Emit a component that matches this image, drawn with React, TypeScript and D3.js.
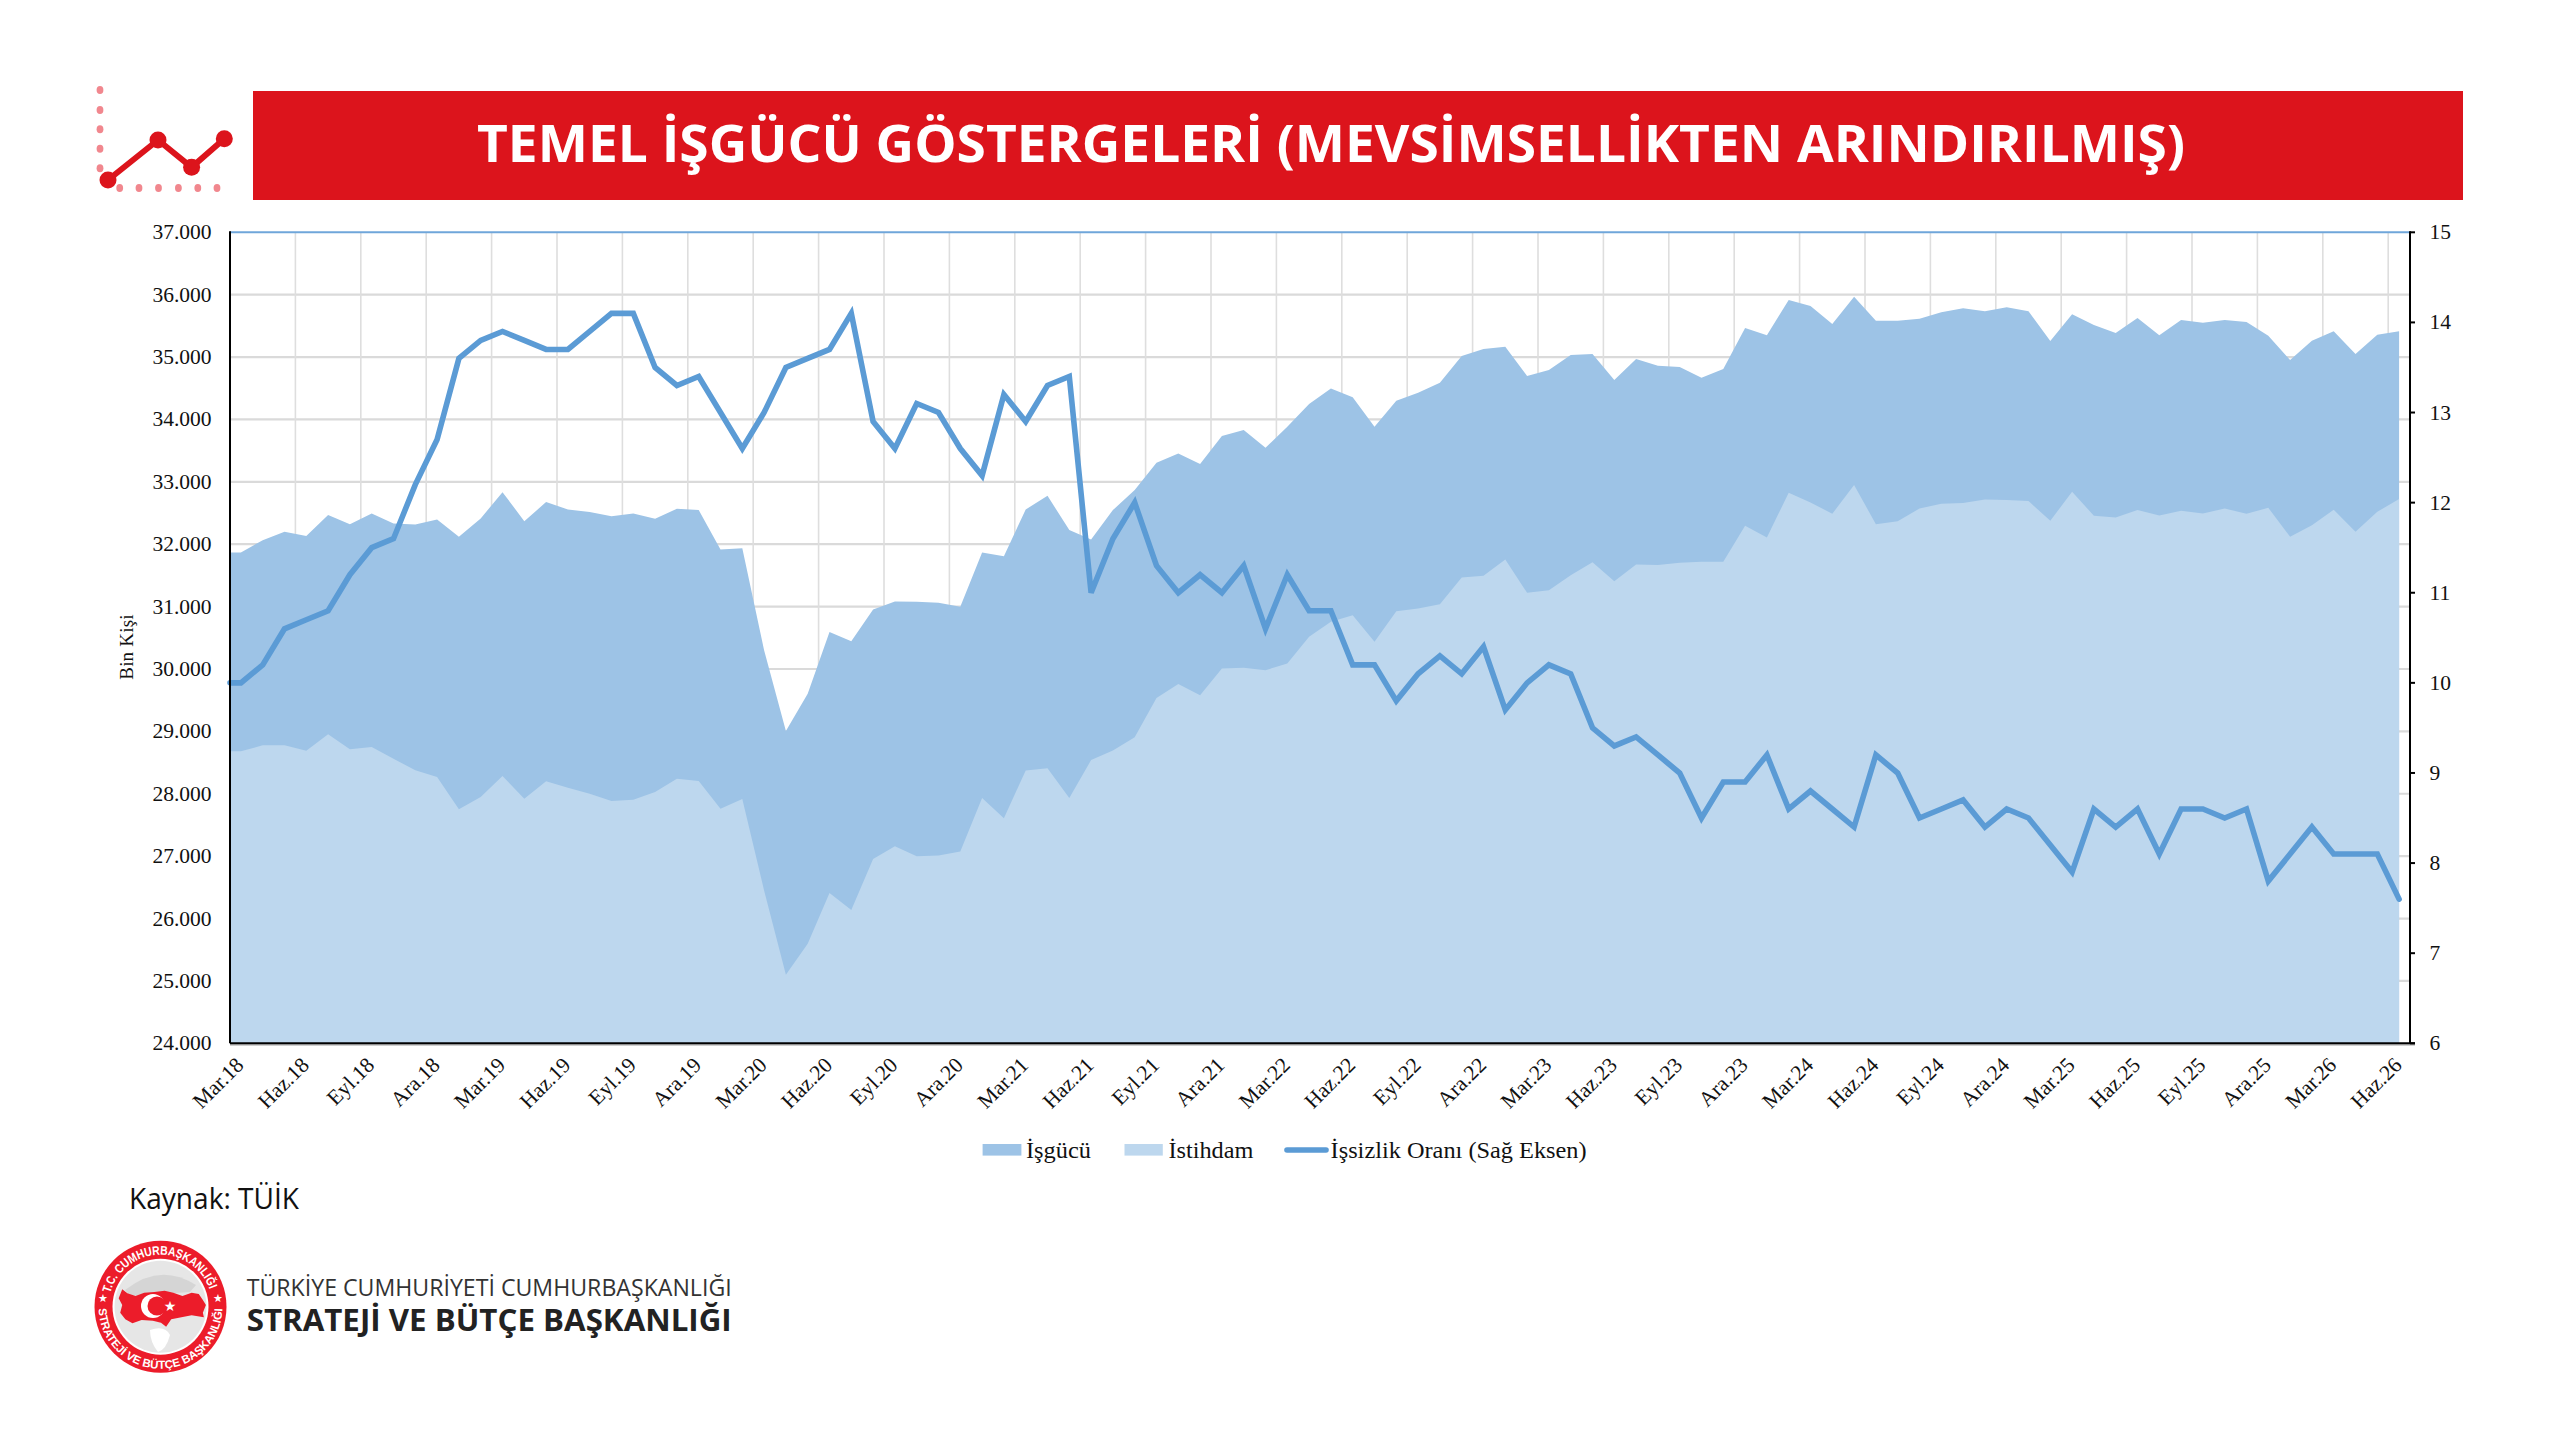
import React from "react";
import * as d3 from "d3";

const quarterLabels = ["Mar.18","Haz.18","Eyl.18","Ara.18","Mar.19","Haz.19","Eyl.19","Ara.19","Mar.20","Haz.20","Eyl.20","Ara.20","Mar.21","Haz.21","Eyl.21","Ara.21","Mar.22","Haz.22","Eyl.22","Ara.22","Mar.23","Haz.23","Eyl.23","Ara.23","Mar.24","Haz.24","Eyl.24","Ara.24","Mar.25","Haz.25","Eyl.25","Ara.25","Mar.26","Haz.26"];

const isgucu = [31868,32065,32200,32130,32467,32322,32493,32333,32317,32397,32119,32413,32835,32370,32675,32557,32515,32450,32493,32408,32568,32547,31916,31937,30300,29005,29605,30594,30444,30954,31082,31077,31060,30996,31868,31809,32557,32777,32226,32076,32547,32868,33306,33456,33285,33734,33830,33546,33883,34247,34498,34354,33883,34300,34429,34589,35017,35129,35166,34696,34792,35033,35049,34632,34968,34862,34840,34669,34808,35466,35348,35915,35819,35530,35968,35583,35583,35615,35717,35781,35733,35797,35733,35257,35685,35514,35386,35626,35348,35594,35551,35594,35562,35343,34952,35263,35412,35049,35359,35412];

const istihdam = [28680,28776,28776,28690,28952,28712,28749,28562,28375,28268,27750,27947,28284,27921,28199,28097,28001,27883,27905,28028,28241,28204,27760,27915,26450,25098,25595,26408,26135,26955,27159,26999,27010,27076,27932,27606,28374,28407,27932,28540,28695,28904,29534,29760,29578,30009,30020,29981,30088,30515,30756,30863,30435,30927,30970,31039,31467,31494,31756,31221,31264,31504,31713,31408,31675,31665,31702,31718,31718,32296,32108,32825,32670,32488,32948,32322,32370,32573,32648,32659,32718,32707,32691,32376,32841,32456,32429,32547,32461,32536,32493,32573,32488,32584,32119,32306,32552,32199,32520,32723];

const issizlik = [10.0,10.2,10.6,10.7,10.8,11.2,11.5,11.6,12.2,12.7,13.6,13.8,13.9,13.8,13.7,13.7,13.9,14.1,14.1,13.5,13.3,13.4,13.0,12.6,13.0,13.5,13.6,13.7,14.1,12.9,12.6,13.1,13.0,12.6,12.3,13.2,12.9,13.3,13.4,11.0,11.6,12.0,11.3,11.0,11.2,11.0,11.3,10.6,11.2,10.8,10.8,10.2,10.2,9.8,10.1,10.3,10.1,10.4,9.7,10.0,10.2,10.1,9.5,9.3,9.4,9.2,9.0,8.5,8.9,8.9,9.2,8.6,8.8,8.6,8.4,9.2,9.0,8.5,8.6,8.7,8.4,8.6,8.5,8.2,7.9,8.6,8.4,8.6,8.1,8.6,8.6,8.5,8.6,7.8,8.1,8.4,8.1,8.1,8.1,7.6];

const leftTicks = d3.range(24000, 37001, 1000);
const rightTicks = d3.range(6, 16, 1);

const DARK = "#9DC3E6";
const LIGHT = "#BDD7EE";
const LINE = "#5B9BD5";
const RED = "#DC141C";
const PINK = "#F1878E";
const SERIF = "'Liberation Serif', serif";
const SANS = "'Open Sans', sans-serif";

const plot = { left: 230, right: 2410, top: 232.3, bottom: 1043.3 };

const fmt = d3.formatLocale({ decimal: ",", thousands: ".", grouping: [3], currency: ["", ""] }).format(",d");

const zoomX = (z: number) => 60 + z / 1.96;
const zoomY = (z: number) => 1160 + z / 3;
const turkey = [[115,415],[122,388],[132,400],[148,408],[165,398],[185,396],[205,392],[222,398],[240,408],[258,398],[272,402],[280,420],[286,435],[280,458],[282,472],[258,466],[238,472],[218,478],[208,500],[198,488],[182,482],[160,480],[142,490],[128,478],[118,458],[122,435]];

function App() {
  const x = d3.scaleBand<number>().domain(d3.range(issizlik.length)).range([plot.left, plot.right]);
  const cx = (i: number) => x(i)! + x.bandwidth() / 2;
  const yL = d3.scaleLinear().domain([24000, 37000]).range([plot.bottom, plot.top]);
  const yR = d3.scaleLinear().domain([6, 15]).range([plot.bottom, plot.top]);
  const px = (_: number, i: number) => (i === 0 ? plot.left : cx(i - 1));
  const extend = (a: number[]) => [a[0], ...a];
  const areaL = d3.area<number>().x(px).y0(plot.bottom).y1((d) => yL(d));
  const lineR = d3.line<number>().x(px).y((d) => yR(d));
  const iconLine = d3.line();
  const qStep = x.step() * 3;
  const vGrid = quarterLabels.map((_, i) => plot.left + i * qStep);

  const emb = { x: 160.5, y: 1306.7 };
  const polar = (r: number, deg: number) => {
    const a = (deg * Math.PI) / 180;
    return `${emb.x + r * Math.cos(a)},${emb.y - r * Math.sin(a)}`;
  };
  return (
    <svg width={2560} height={1441} viewBox="0 0 2560 1441" style={{ position: "absolute", left: 0, top: 0, display: "block", background: "#fff" }}>
      {/* header */}
      <rect x={253} y={91} width={2210} height={109} fill={RED} />
      <text x={1331} y={162} textAnchor="middle" fill="#fff" fontFamily={SANS} fontWeight={700} fontSize={52} textLength={1708} lengthAdjust="spacingAndGlyphs">TEMEL İŞGÜCÜ GÖSTERGELERİ (MEVSİMSELLİKTEN ARINDIRILMIŞ)</text>
      {/* icon */}
      <g fill={PINK}>
        {[90, 110, 129.3, 148.7, 168.3].map((y) => <ellipse key={y} cx={100} cy={y} rx={3.4} ry={4} />)}
        {[119.7, 139, 158.5, 178.4, 197.8, 217].map((v) => <ellipse key={v} cx={v} cy={188} rx={3.4} ry={4} />)}
      </g>
      <path d={iconLine([[108,180],[158,140],[191.6,167.3],[224.3,138.7]])!} fill="none" stroke={RED} strokeWidth={6} />
      {[[108,180],[158,140],[191.6,167.3],[224.3,138.7]].map(([a, b]) => <circle key={a} cx={a} cy={b} r={8.5} fill={RED} />)}

      {/* grid */}
      {leftTicks.slice(1, -1).map((t) => <line key={t} x1={plot.left} x2={plot.right} y1={yL(t)} y2={yL(t)} stroke="#DADADA" strokeWidth={2.2} />)}
      {vGrid.slice(1).map((v) => <line key={v} x1={v} x2={v} y1={plot.top} y2={plot.bottom} stroke="#DEDEDE" strokeWidth={1.6} />)}

      {/* series */}
      <path d={areaL(extend(isgucu))!} fill={DARK} />
      <path d={areaL(extend(istihdam))!} fill={LIGHT} />
      <path d={lineR(extend(issizlik))!} fill="none" stroke={LINE} strokeWidth={5.6} strokeLinejoin="miter" strokeLinecap="round" />

      {/* frame */}
      <line x1={plot.left} x2={plot.right} y1={plot.top} y2={plot.top} stroke="#6FA6DA" strokeWidth={2} />
      <line x1={plot.left} x2={plot.left} y1={plot.top - 1} y2={plot.bottom} stroke="#000" strokeWidth={2} />
      <line x1={plot.right} x2={plot.right} y1={plot.top - 1} y2={plot.bottom} stroke="#000" strokeWidth={2} />
      <line x1={plot.left} x2={plot.right + 5} y1={plot.bottom + 1.6} y2={plot.bottom + 1.6} stroke="#BFBFBF" strokeWidth={1.6} />
      <line x1={plot.left} x2={plot.right + 5} y1={plot.bottom} y2={plot.bottom} stroke="#000" strokeWidth={2} />
      {rightTicks.map((t) => <line key={t} x1={plot.right} x2={plot.right + 5} y1={yR(t)} y2={yR(t)} stroke="#000" strokeWidth={2} />)}

      {/* axis labels */}
      {leftTicks.map((t) => <text key={t} x={211.5} y={yL(t) + 7} textAnchor="end" fontFamily={SERIF} fontSize={21.5} fill="#111">{fmt(t)}</text>)}
      {rightTicks.map((t) => <text key={t} x={2429.5} y={yR(t) + 7} fontFamily={SERIF} fontSize={21.5} fill="#111">{t}</text>)}
      {quarterLabels.map((l, i) => (
        <text key={l} transform={`translate(${cx(i * 3) + 4},${plot.bottom + 23}) rotate(-45)`} textAnchor="end" fontFamily={SERIF} fontSize={21.5} fill="#111">{l}</text>
      ))}
      <text transform={`translate(133,647) rotate(-90)`} textAnchor="middle" fontFamily={SERIF} fontSize={19} letterSpacing={0.2} fill="#111">Bin Kişi</text>

      {/* legend */}
      <rect x={982.6} y={1144} width={38.8} height={11.6} fill={DARK} />
      <text x={1026} y={1158} fontFamily={SERIF} fontSize={24} fill="#111" textLength={65} lengthAdjust="spacingAndGlyphs">İşgücü</text>
      <rect x={1124.5} y={1144} width={38.3} height={11.6} fill={LIGHT} />
      <text x={1168.4} y={1158} fontFamily={SERIF} fontSize={24} fill="#111" textLength={85} lengthAdjust="spacingAndGlyphs">İstihdam</text>
      <line x1={1287} x2={1326} y1={1150} y2={1150} stroke={LINE} strokeWidth={5.6} strokeLinecap="round" />
      <text x={1330.6} y={1158} fontFamily={SERIF} fontSize={24} fill="#111" textLength={256} lengthAdjust="spacingAndGlyphs">İşsizlik Oranı (Sağ Eksen)</text>

      {/* source */}
      <text x={129} y={1209} fontFamily={SANS} fontSize={30} fill="#111" textLength={170} lengthAdjust="spacingAndGlyphs">Kaynak: TÜİK</text>

      {/* emblem */}
      <defs>
        <path id="arcTop" d={`M ${polar(52, 165)} A 52 52 0 0 1 ${polar(52, 15)}`} />
        <path id="arcBot" d={`M ${polar(62, 130)} A 62 62 0 1 0 ${polar(62, 50)}`} />
      </defs>
      <circle cx={emb.x} cy={emb.y} r={66} fill="#EC1C2A" />
      <circle cx={emb.x} cy={emb.y} r={48} fill="#fff" />
      <ellipse cx={emb.x} cy={emb.y} rx={46} ry={46} fill="#DDDDDD" opacity={0.75} />
      <path d="M 125 1290 Q 160 1262 196 1285 L 190 1292 L 130 1296 Z" fill="#C9C9C9" opacity={0.6} />
      <path d="M 150 1330 Q 165 1325 170 1335 Q 166 1350 158 1352 Q 150 1342 150 1330 Z" fill="#fff" />
      <polygon points={turkey.map(([a, b]) => `${zoomX(a)},${zoomY(b)}`).join(" ")} fill="#EC1C2A" />
      <circle cx={153} cy={1306} r={12} fill="#fff" />
      <circle cx={157} cy={1306} r={9.5} fill="#EC1C2A" />
      <text x={170} y={1311} textAnchor="middle" fontSize={14} fill="#fff" fontFamily="'DejaVu Sans'">★</text>
      <text fontFamily="'Liberation Sans Narrow','Liberation Sans'" fontWeight={700} fontSize={12.5} fill="#fff">
        <textPath href="#arcTop" textLength={132} lengthAdjust="spacingAndGlyphs">T.C. CUMHURBAŞKANLIĞI</textPath>
      </text>
      <text fontFamily="'Liberation Sans Narrow','Liberation Sans'" fontWeight={700} fontSize={11.5} fill="#fff">
        <textPath href="#arcBot" startOffset="50%" textAnchor="middle">STRATEJİ VE BÜTÇE BAŞKANLIĞI</textPath>
      </text>
      <text x={103} y={1302} textAnchor="middle" fontSize={11} fill="#fff" fontFamily="'DejaVu Sans'">★</text>
      <text x={218} y={1302} textAnchor="middle" fontSize={11} fill="#fff" fontFamily="'DejaVu Sans'">★</text>

      <text x={246.7} y={1296} fontFamily={SANS} fontSize={23} fill="#333" textLength={485} lengthAdjust="spacingAndGlyphs">TÜRKİYE CUMHURİYETİ CUMHURBAŞKANLIĞI</text>
      <text x={246.7} y={1331} fontFamily={SANS} fontWeight={700} fontSize={31} fill="#222" textLength={485} lengthAdjust="spacingAndGlyphs">STRATEJİ VE BÜTÇE BAŞKANLIĞI</text>
    </svg>
  );
}

export default App;
